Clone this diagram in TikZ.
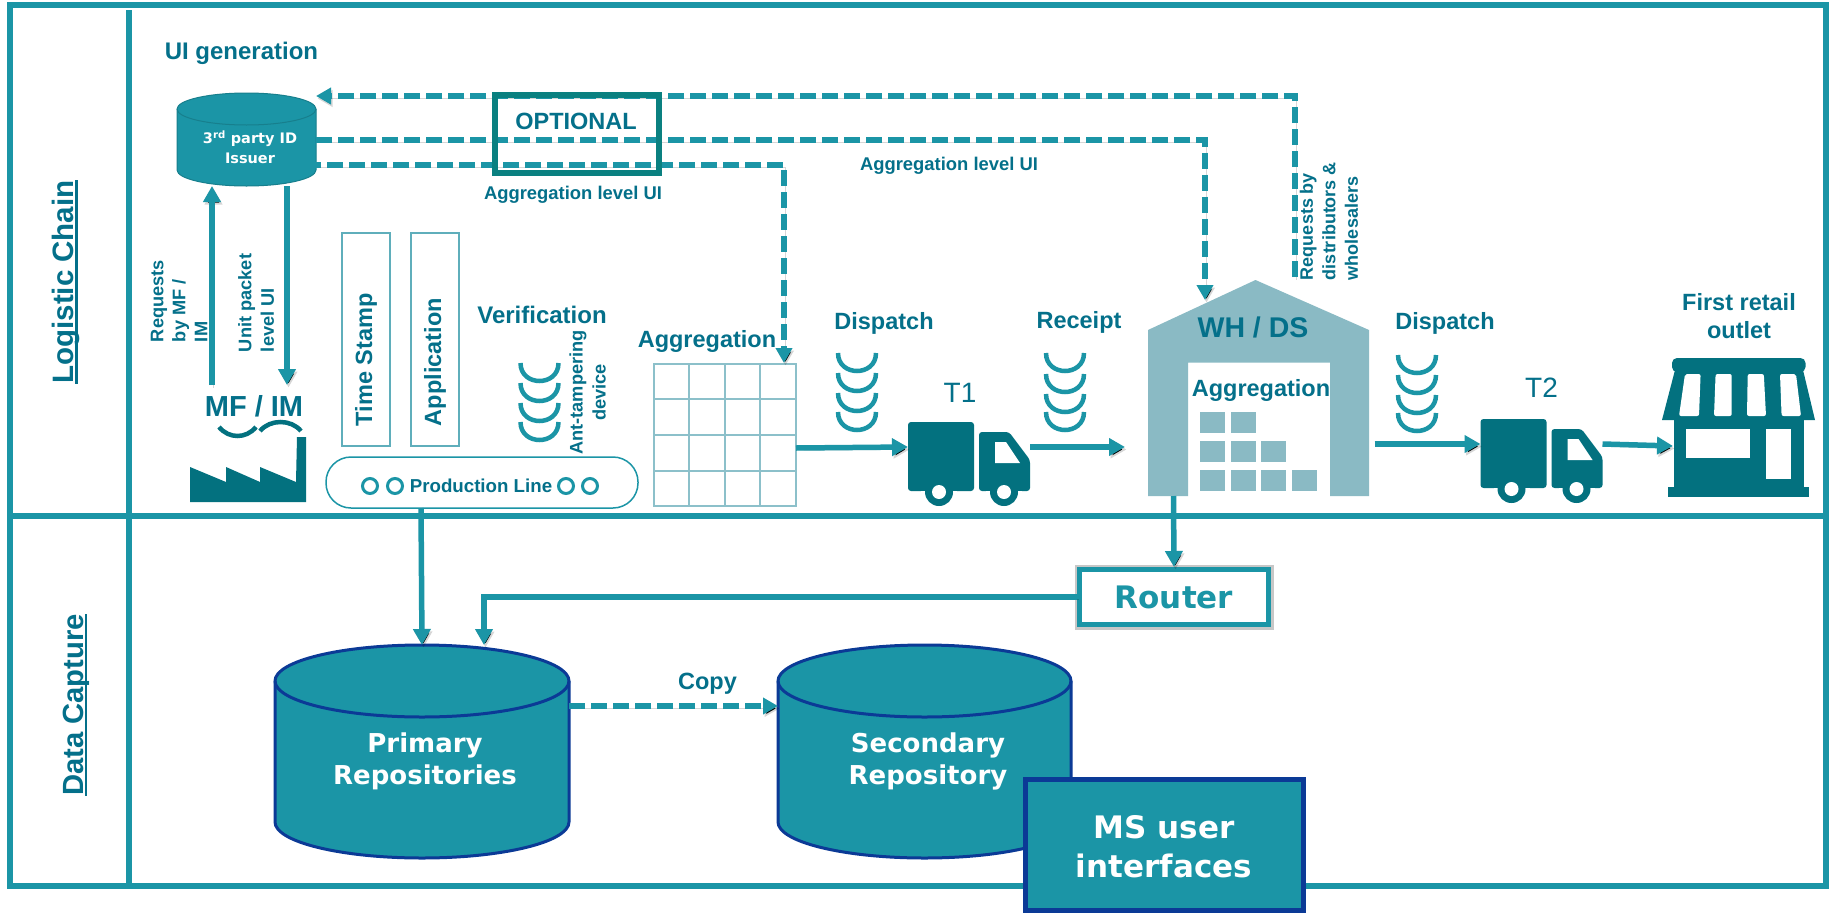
\documentclass[tikz,border=0pt]{standalone}
\usepackage{fontspec}
\setmainfont{Liberation Sans}
\newfontfamily\dejavu{DejaVu Sans}
\usetikzlibrary{arrows.meta}
\definecolor{teal1}{HTML}{1B95A6}
\definecolor{tealtxt}{HTML}{04708A}
\definecolor{tealdark}{HTML}{03717F}
\definecolor{teallight}{HTML}{8ABAC4}
\definecolor{tealgrid}{HTML}{8CC0CA}
\definecolor{tealthin}{HTML}{5FAEBB}
\definecolor{optbox}{HTML}{0A8080}
\definecolor{repoblue}{HTML}{0B3A96}
\newcommand{\fs}[2]{\fontsize{#1}{#2}\selectfont}
\newcommand{\ulrule}[2]{\setbox0\hbox{#1}\rlap{\rule[-#2]{\wd0}{2.5pt}}\box0}
\newcommand{\wavestack}[5]{%
  \foreach \wy in {#2,#3,#4,#5}{%
    \draw[wavearc] (#1-19,\wy) .. controls (#1-19,\wy+24) and (#1+19,\wy+24) .. (#1+19,\wy);
  }}
\newcommand{\cylbody}[9]{% name cx top bot rx ry fill draw width
  \pgfmathsetmacro\cL{#2-#5}\pgfmathsetmacro\cR{#2+#5}
  \pgfmathsetmacro\tY{#3+#6}\pgfmathsetmacro\bY{#4-#6}
  \pgfmathsetmacro\kx{.5523*#5}\pgfmathsetmacro\ky{.5523*#6}
  \pgfmathsetmacro\cA{#2-\kx}\pgfmathsetmacro\cB{#2+\kx}
  \pgfmathsetmacro\yA{\tY-\ky}\pgfmathsetmacro\yB{\tY+\ky}\pgfmathsetmacro\yC{\bY+\ky}
  \pgfmathsetmacro\yD{\tY+#6}
  \draw[fill=#7,draw=#8,line width=#9pt,line join=round]
    (\cL,\tY) .. controls (\cL,\yA) and (\cA,#3) .. (#2,#3)
    .. controls (\cB,#3) and (\cR,\yA) .. (\cR,\tY) -- (\cR,\bY)
    .. controls (\cR,\yC) and (\cB,#4) .. (#2,#4)
    .. controls (\cA,#4) and (\cL,\yC) .. (\cL,\bY) -- cycle;
  \draw[draw=#8,line width=#9pt]
    (\cL,\tY) .. controls (\cL,\yB) and (\cA,\yD) .. (#2,\yD)
    .. controls (\cB,\yD) and (\cR,\yB) .. (\cR,\tY);
  \pgfmathsetmacro\nW{2*#5}\pgfmathsetmacro\nH{#4-#3}\pgfmathsetmacro\nY{(#3+#4)/2}
  \node[port,minimum width=\nW pt,minimum height=\nH pt] (#1) at (#2,\nY) {};
}
\newcommand{\truckicon}[3]{% name dx dy
  \begin{scope}[shift={(#2,#3)}]
    \node[port,minimum width=122pt,minimum height=84pt] (#1) at (969,464) {};
    \fill[tealdark,rounded corners=3pt] (908,422) rectangle (974,491);
    \fill[tealdark,rounded corners=3pt] (979,491) -- (979,432) -- (1009,432) -- (1030,460) -- (1030,491) -- cycle;
    \fill[white] (995,442) -- (1006,442) -- (1020,463) -- (995,463) -- cycle;
    \fill[white] (921,491) rectangle (957,497);
    \fill[white] (986,491) rectangle (1022,497);
    \fill[tealdark] (939,492) circle[radius=14];
    \fill[tealdark] (1004,492) circle[radius=14];
    \fill[white] (939,492) circle[radius=7];
    \fill[white] (1004,492) circle[radius=7];
  \end{scope}
}
\tikzset{
  frameline/.style={draw=teal1,line width=6pt},
  port/.style={rectangle,inner sep=0pt,outer sep=0pt},
  shad/.style={preaction={draw=black,draw opacity=.16,transform canvas={shift={(1.5pt,-2.5pt)}}}},
  solidarrow/.style={draw=teal1,line width=5.5pt,shad,-{Triangle[width=17pt,length=16pt]}},
  dasharrow/.style={draw=teal1,line width=6pt,shad,dash pattern=on 16pt off 6pt,-{Triangle[width=16pt,length=15pt]}},
  wavearc/.style={draw=teal1,line width=4.5pt},
  thinbox/.style={draw=tealthin,line width=1.6pt},
  gridline/.style={draw=tealgrid,line width=2pt},
  lab/.style={inner sep=0pt,outer sep=0pt,text=tealtxt},
  big/.style={lab,font=\fs{23.5}{28}\bfseries},
  small/.style={lab,font=\fs{18.2}{22}\bfseries},
  replab/.style={inner sep=0pt,outer sep=0pt,text=white,align=center,font=\dejavu\fs{26}{32}\bfseries},
}
\begin{document}
\begin{tikzpicture}[x=1pt,y=-1pt]
\useasboundingbox (0,0) rectangle (1829,913);
\fill[white] (0,0) rectangle (1829,913);
% frame
\draw[frameline] (10,5) rectangle (1826,886);
\draw[frameline] (10,516) -- (1826,516);
\draw[frameline] (129,10) -- (129,886);
\node[lab,rotate=90,font=\fs{29.5}{34}\bfseries] (logchain) at (66,282) {\ulrule{Logistic Chain}{4pt}};
\node[lab,rotate=90,font=\fs{29.2}{34}\bfseries] (datacap) at (76,705) {\ulrule{Data Capture}{4pt}};

% issuer
\node[lab,anchor=center,font=\fs{24}{28}\bfseries] (uigen) at (241.5,53) {UI generation};
\cylbody{issuer}{246.5}{93}{186}{69.5}{16}{teal1}{teal1!85!black}{1}
\node[lab,text=white,align=center,font=\dejavu\fs{14.5}{19.5}\bfseries] (issuertxt) at (250,147) {3\textsuperscript{rd} party ID\\Issuer};

% WH
\node[port,minimum width=221pt,minimum height=216pt] (wh) at (1258.5,388) {};
\fill[teallight] (1148,496) -- (1148,330) -- (1255.5,280) -- (1369,330) -- (1369,496) -- (1330,496) -- (1330,362.5) -- (1188,362.5) -- (1188,496) -- cycle;
\foreach \bx/\by in {1200/412,1230.5/412,1200/441,1230.5/441,1261/441,1200/470,1230.5/470,1261/470,1292/470}
  \fill[teallight] (\bx,\by) rectangle (\bx+25,\by+21);
\node[lab,font=\fs{28.5}{32}\bfseries] (whtxt) at (1253,327) {WH / DS};
\node[big] (whagg) at (1261,390) {Aggregation};

% labels on the dashed connectors
\node[lab,font=\fs{18.4}{22}\bfseries] (agg1) at (573,195) {Aggregation level UI};
\node[lab,font=\fs{18.4}{22}\bfseries] (agg2) at (949,166) {Aggregation level UI};

% grid
\node[port,minimum width=142pt,minimum height=142pt] (grid) at (725,435) {};
\draw[gridline] (654,364) rectangle (796,506);
\foreach \gx in {689,725,760} \draw[gridline] (\gx,364) -- (\gx,506);
\foreach \gy in {399,435,471} \draw[gridline] (654,\gy) -- (796,\gy);

\draw[dasharrow] ([shift={(36.5pt,3pt)}]wh.north) |- ([yshift=43.5pt]issuer.east);
\draw[dasharrow] (issuer.east) -| ([shift={(-53.5pt,-20pt)}]wh.north);
\draw[dasharrow] ([shift={(-11pt,-25.5pt)}]issuer.east) -| ([shift={(59pt,1pt)}]grid.north);

% optional
\node[draw=optbox,line width=6pt,port,minimum width=164pt,minimum height=78pt] (optional) at (577,134) {};
\node[lab,font=\fs{23.5}{28}\bfseries] (opttxt) at (576,121) {OPTIONAL};

% MF/IM
\node[lab,rotate=90,anchor=west,align=left,font=\fs{18.2}{22}\bfseries] (req) at (179,342) {Requests\\by MF /\\IM};
\node[lab,rotate=90,anchor=west,align=left,font=\fs{18.2}{22.5}\bfseries] (unit) at (256,352) {Unit packet\\level UI};
\node[port,lab,minimum width=96pt,minimum height=42pt,font=\fs{29}{32}\bfseries] (mf) at (254,406) {MF / IM};
\draw[solidarrow] ([xshift=-42pt]mf.north) -- ([xshift=-34.5pt]issuer.south);
\draw[solidarrow] ([xshift=40.5pt]issuer.south) -- ([xshift=33pt]mf.north);
\fill[tealdark] (190,502) -- (190,467) -- (226,482) -- (226,467) -- (260,482) -- (260,467) -- (296,482) -- (297,437) -- (306,437) -- (306,502) -- cycle;
\draw[tealdark,line width=4.5pt] (219,427) .. controls (229,439) and (246,439) .. (256,427);
\draw[tealdark,line width=4.5pt] (260,431) .. controls (270,419) and (291,419) .. (301,431);

% process boxes
\node[port,thinbox,minimum width=48pt,minimum height=213pt] (tsbox) at (366,339.5) {};
\node[port,thinbox,minimum width=48pt,minimum height=213pt] (appbox) at (435,339.5) {};
\node[big,rotate=90,anchor=west] (tstxt) at (366,426) {Time Stamp};
\node[big,rotate=90,anchor=west] (apptxt) at (435,426) {Application};
\node[lab,font=\fs{24}{28}\bfseries] (verif) at (542,315) {Verification};
\wavestack{539.5}{363}{383}{403}{422}
\node[small,rotate=90,align=center,font=\fs{18.2}{23}\bfseries] (ant) at (587.5,392.5) {Ant-tampering\\device};
\node[port,draw=teal1,line width=1.5pt,rounded corners=25pt,minimum width=312pt,minimum height=51pt] (prod) at (482,482.5) {};
\foreach \cx in {370,395,566,590} \draw[teal1,line width=3pt] (\cx,486) circle[radius=7.5];
\node[lab,font=\fs{18.7}{22}\bfseries] (prodtxt) at (481,486) {Production Line};

% flow row
\node[big] (agg3) at (707,341) {Aggregation};
\node[big] (disp1) at (884,323) {Dispatch};
\wavestack{857}{353}{373}{393}{412}
\node[big] (rcpt) at (1079,322) {Receipt};
\wavestack{1065}{353}{374}{394}{412}
\node[big] (disp2) at (1445,323) {Dispatch};
\wavestack{1417}{355}{375}{395}{413}
\node[lab,font=\fs{28}{32}] (t1) at (960,393) {T1};
\node[lab,font=\fs{28}{32}] (t2) at (1541.5,388) {T2};
\truckicon{truckA}{0}{0}
\truckicon{truckB}{572.5}{-3}
\node[small,rotate=90,anchor=west,align=left,font=\fs{18}{22.5}\bfseries] (reqd) at (1329,280) {Requests by\\distributors \&\\wholesalers};

% store
\node[big,align=center,font=\fs{23.5}{28}\bfseries] (retail) at (1739,316) {First retail\\outlet};
\node[port,minimum width=153pt,minimum height=139pt] (store) at (1738.5,427.5) {};
\fill[tealdark,rounded corners=5pt] (1672,358) rectangle (1805.5,372);
\fill[tealdark] (1675,370) -- (1803,370) -- (1815,420) -- (1662,420) -- cycle;
\fill[tealdark] (1674,418) rectangle (1804,490);
\fill[tealdark] (1667.5,487) rectangle (1809,497);
\foreach \pa/\pb/\pc/\pd in {1685/1700.6/1699/1679,1715.6/1731.7/1731.7/1714,1747.7/1763.8/1766/1747,1780/1796/1801/1781.6}
  \fill[white,rounded corners=2pt] (\pa,374) -- (\pb,374) -- (\pc,416) -- (\pd,416) -- cycle;
\fill[white] (1686,429) rectangle (1749.5,458);
\fill[white] (1765.5,429) rectangle (1790.5,479);

\draw[solidarrow] ([yshift=-13pt]grid.east) -- ([yshift=17pt]truckA.west);
\draw[solidarrow] ([yshift=17pt]truckA.east) -- ([shift={(-23pt,-59pt)}]wh.west);
\draw[solidarrow] ([shift={(5.5pt,-56pt)}]wh.east) -- ([yshift=17pt]truckB.west);
\draw[solidarrow] ([yshift=17pt]truckB.east) -- ([shift={(11pt,-18.5pt)}]store.west);

% data capture
\node[draw=teal1,line width=5pt,fill=white,rectangle,inner sep=0pt,minimum width=189pt,minimum height=55pt,text=teal1,
  preaction={draw=black,draw opacity=.22,line width=10pt},font=\dejavu\fs{31}{34}\bfseries] (router) at (1174,597) {Router};
\draw[solidarrow] ([xshift=-85pt]wh.south) -- (router.north);
\cylbody{primary}{422}{645}{858}{147}{36}{teal1}{repoblue}{3}
\cylbody{secondary}{924.5}{645}{858}{146.5}{36}{teal1}{repoblue}{3}
\draw[solidarrow] ([xshift=-61pt]prod.south) -- (primary.north);
\draw[solidarrow] (router.west) -| ([xshift=62pt]primary.north);
\draw[dasharrow] ([yshift=45.5pt]primary.east) -- ([yshift=45.5pt]secondary.west);
\node[big] (copy) at (707.5,684) {Copy};
\node[replab] (primtxt) at (425,761.5) {Primary\\Repositories};
\node[replab] (sectxt) at (928,761.5) {Secondary\\Repository};
\node[draw=repoblue,fill=teal1,line width=5pt,rectangle,inner sep=0pt,minimum width=278pt,minimum height=131pt,text=white,align=center,font=\dejavu\fs{31}{39}\bfseries,yshift=0pt] (ms) at (1164,844.5) {\rule{0pt}{28pt}MS user\\interfaces};
\end{tikzpicture}
\end{document}
